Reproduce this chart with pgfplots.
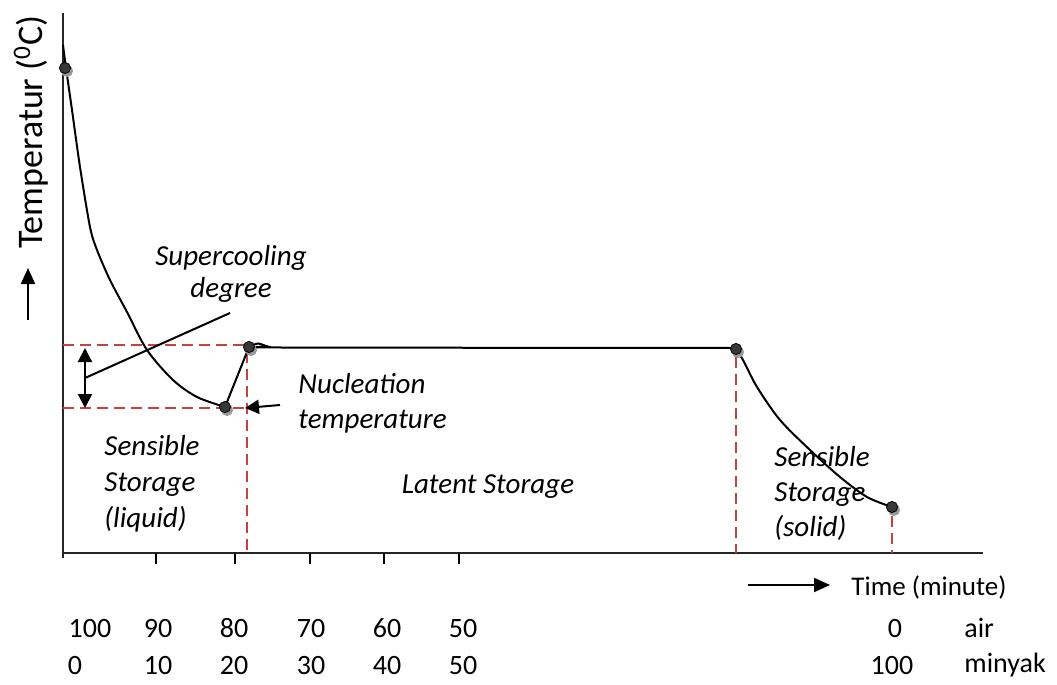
\documentclass[border=0pt]{standalone}
\usepackage{pgfplots}
\pgfplotsset{compat=1.18}
\usepackage{fontspec}
\setmainfont{Carlito}
\usetikzlibrary{arrows.meta}
\definecolor{dashred}{RGB}{196,66,66}
\begin{document}
\begin{tikzpicture}
\begin{axis}[
  scale only axis, width=528.5pt, height=342pt,
  xmin=0, xmax=1057, ymin=0, ymax=684, y dir=reverse,
  hide axis, clip=false,
]
% invisible frame to fix the picture size
\addplot[draw=none] coordinates {(0,0) (1057,684)};
% axes
\addplot[black!85, line width=1.1pt] coordinates {(63,13) (63,558)};
\addplot[black!85, line width=1.1pt] coordinates {(63,553) (983,553)};
\pgfplotsinvokeforeach{156,235,310,384,459}{
  \addplot[black, line width=0.9pt] coordinates {(#1,553) (#1,564)};
}
% red dashed guides
\addplot[dashred, line width=1.4pt, dash pattern=on 5.5pt off 3pt] coordinates {(63,345) (247,345)};
\addplot[dashred, line width=1.4pt, dash pattern=on 5.5pt off 3pt] coordinates {(63,408) (247,408)};
\addplot[dashred, line width=1.4pt, dash pattern=on 5.5pt off 3pt] coordinates {(247,352) (247,553)};
\addplot[dashred, line width=1.4pt, dash pattern=on 5.5pt off 3pt] coordinates {(736,357) (736,553)};
\addplot[dashred, line width=1.4pt, dash pattern=on 5.5pt off 3pt] coordinates {(892,516) (892,553)};
% temperature curve
\addplot[black, line width=1pt, smooth, tension=0.5] coordinates {
  (63,45) (66,68) (72,110) (80,167) (90,227) (97,250) (110,280) (127,312) (147,350) (173,380) (197,397) (225,407)};
\addplot[black, line width=1pt] coordinates {(225,407) (249,347)};
\addplot[black, line width=1pt, smooth, tension=0.4] coordinates {
  (249,347) (258,343.5) (268,346.5) (282,347.5) (736,348)};
\addplot[black, line width=1pt, smooth, tension=0.5] coordinates {
  (736,349) (743,360) (757,387) (780,420) (810,450) (840,477) (867,497) (892,507)};
% point markers with shadow
\addplot[only marks, mark=*, mark size=2.8pt, color=black!40] coordinates {
  (67,71) (227,410) (251,350) (738,352) (894,510)};
\addplot[only marks, mark=*, mark size=2.8pt, color=black, mark options={fill=black!78}] coordinates {
  (65,68) (225,407) (249,347) (736,349) (892,507)};
% arrows
\addplot[black, line width=1pt, {Triangle[length=7pt,width=7pt]}-{Triangle[length=7pt,width=7pt]}] coordinates {(85,348) (85,408)};
\addplot[black, line width=1pt] coordinates {(85,378) (230,313)};
\addplot[black, line width=1pt, -{Triangle[length=7pt,width=7pt]}] coordinates {(280,405) (245,408)};
\addplot[black, line width=1pt, -{Triangle[length=8pt,width=7pt]}] coordinates {(748,585) (830,585)};
\addplot[black, line width=1pt, -{Triangle[length=8pt,width=7pt]}] coordinates {(28,320) (28,268)};
% texts
\node[inner sep=0, align=center, font=\fontsize{14.5}{16}\selectfont\itshape] at (axis cs:231,274) {Supercooling\\degree};
\node[inner sep=0, align=left, anchor=west, font=\fontsize{14.5}{17.5}\selectfont\itshape] at (axis cs:298,403) {Nucleation\\temperature};
\node[inner sep=0, align=left, anchor=west, font=\fontsize{14.5}{18}\selectfont\itshape] at (axis cs:104,484) {Sensible\\Storage\\(liquid)};
\node[inner sep=0, font=\fontsize{14.5}{17}\selectfont\itshape] at (axis cs:488,487) {Latent Storage};
\node[inner sep=0, align=left, anchor=west, font=\fontsize{14.5}{17.5}\selectfont\itshape] at (axis cs:774,493) {Sensible\\Storage\\(solid)};
\node[inner sep=0, rotate=90, anchor=west, font=\fontsize{18}{20}\selectfont] at (axis cs:31,249) {Temperatur (\textsuperscript{0}C)};
\node[inner sep=0, anchor=west, font=\fontsize{13.5}{16}\selectfont] at (axis cs:851,587) {Time (minute)};
% bottom scale labels
\pgfplotsinvokeforeach{{90/100},{158/90},{234/80},{311/70},{387/60},{463/50},{895/0}}{
  \pgfplotsextra{\foreach \xx/\lab in {#1}{\node[inner sep=0, font=\fontsize{14}{16}\selectfont] at (axis cs:\xx,628) {\lab};}}
}
\pgfplotsinvokeforeach{{75/0},{158/10},{234/20},{311/30},{387/40},{463/50},{892/100}}{
  \pgfplotsextra{\foreach \xx/\lab in {#1}{\node[inner sep=0, font=\fontsize{14}{16}\selectfont] at (axis cs:\xx,665) {\lab};}}
}
\node[inner sep=0, anchor=west, font=\fontsize{14}{16}\selectfont] at (axis cs:964,628) {air};
\node[inner sep=0, anchor=west, font=\fontsize{14}{16}\selectfont] at (axis cs:964,665) {minyak};
\end{axis}
\end{tikzpicture}
\end{document}
